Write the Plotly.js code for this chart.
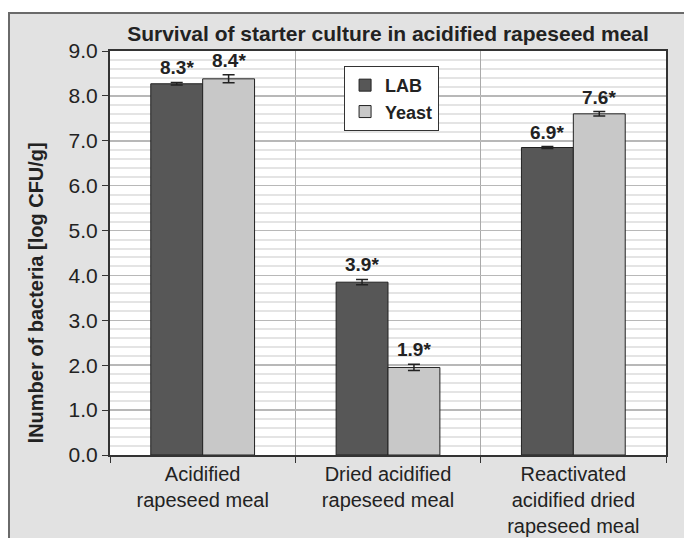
<!DOCTYPE html>
<html>
<head>
<meta charset="utf-8">
<script src="https://cdn.plot.ly/plotly-3.0.1.min.js"></script>
<style>
  html, body { margin: 0; padding: 0; background: #ffffff; }
  #frame { position: absolute; left: 8px; top: 12px; width: 676px; height: 526px;
           background: #e2e2e2; border-left: 2px solid #6a6a6a; border-top: 2px solid #6a6a6a; box-sizing: border-box; }
  #chart { position: absolute; left: 0; top: 0; width: 684px; height: 538px; }
</style>
</head>
<body>
<div id="frame"></div>
<div id="chart"></div>
<script>
const categories = ["Acidified<br>rapeseed meal", "Dried acidified<br>rapeseed meal", "Reactivated<br>acidified dried<br>rapeseed meal"];
const labValues = [8.27, 3.85, 6.85];
const labErrors = [0.03, 0.06, 0.02];
const labLabels = ["8.3*", "3.9*", "6.9*"];
const yeastValues = [8.38, 1.95, 7.60];
const yeastErrors = [0.09, 0.07, 0.05];
const yeastLabels = ["8.4*", "1.9*", "7.6*"];
const seriesNames = ["LAB", "Yeast"];

const font = "Liberation Sans, Arial, sans-serif";

const traces = [
  {
    type: "bar", name: seriesNames[0], x: categories, y: labValues,
    marker: { color: "#575757", line: { color: "#222222", width: 1 } },
    error_y: { type: "data", array: labErrors, visible: true, color: "#222222", thickness: 1.5, width: 6 }
  },
  {
    type: "bar", name: seriesNames[1], x: categories, y: yeastValues,
    marker: { color: "#c8c8c8", line: { color: "#222222", width: 1 } },
    error_y: { type: "data", array: yeastErrors, visible: true, color: "#222222", thickness: 1.5, width: 6 }
  }
];

const annotations = [];
const addLabels = (vals, errs, labels, shift) => {
  for (let i = 0; i < vals.length; i++) {
    annotations.push({
      x: categories[i], y: vals[i] + errs[i], xref: "x", yref: "y",
      text: labels[i], showarrow: false, xshift: shift, yshift: 2,
      yanchor: "bottom", font: { family: font, size: 19, color: "#222222", weight: "bold" }
    });
  }
};
addLabels(labValues, labErrors, labLabels, -26);
addLabels(yeastValues, yeastErrors, yeastLabels, 26);

annotations.push({
  text: "lNumber of bacteria [log CFU/g]", xref: "paper", yref: "paper",
  x: 0, y: 0.40, xshift: -74, textangle: -90, showarrow: false,
  xanchor: "center", yanchor: "middle",
  font: { family: font, size: 20, color: "#222222", weight: "bold" }
});

const layout = {
  width: 684, height: 538,
  paper_bgcolor: "rgba(0,0,0,0)", plot_bgcolor: "#ffffff",
  margin: { l: 110, r: 18, t: 51, b: 83 },
  title: { text: "Survival of starter culture in acidified rapeseed meal",
           font: { family: font, size: 21, color: "#222222", weight: "bold" },
           x: 0.5, xref: "paper", xanchor: "center", y: 0.938, yref: "container", yanchor: "middle" },
  barmode: "group", bargap: 0.44, bargroupgap: 0,
  showlegend: true,
  legend: { x: 0.421, y: 0.963, xanchor: "left", yanchor: "top",
            bgcolor: "#ffffff", bordercolor: "#333333", borderwidth: 1,
            font: { family: font, size: 18, color: "#222222", weight: "bold" },
            itemwidth: 30 },
  xaxis: {
    type: "category", tickson: "boundaries", ticks: "outside", ticklen: 6, tickcolor: "#333333",
    showgrid: true, gridcolor: "#aaaaaa", gridwidth: 1,
    showline: true, linecolor: "#333333", linewidth: 2, mirror: true,
    tickfont: { family: font, size: 20, color: "#222222" }
  },
  yaxis: {
    range: [0, 9], dtick: 1, tickformat: ".1f", ticks: "outside", ticklen: 6, tickcolor: "#333333",
    showgrid: true, gridcolor: "#b8b8b8", gridwidth: 1.5,
    minor: { dtick: 0.2, showgrid: true, gridcolor: "#e4e4e4", gridwidth: 2, ticks: "" },
    showline: true, linecolor: "#333333", linewidth: 2, mirror: true,
    zeroline: false,
    tickfont: { family: font, size: 21, color: "#222222" }
  },
  annotations: annotations
};

Plotly.newPlot("chart", traces, layout, { displayModeBar: false, staticPlot: true });
</script>
</body>
</html>
